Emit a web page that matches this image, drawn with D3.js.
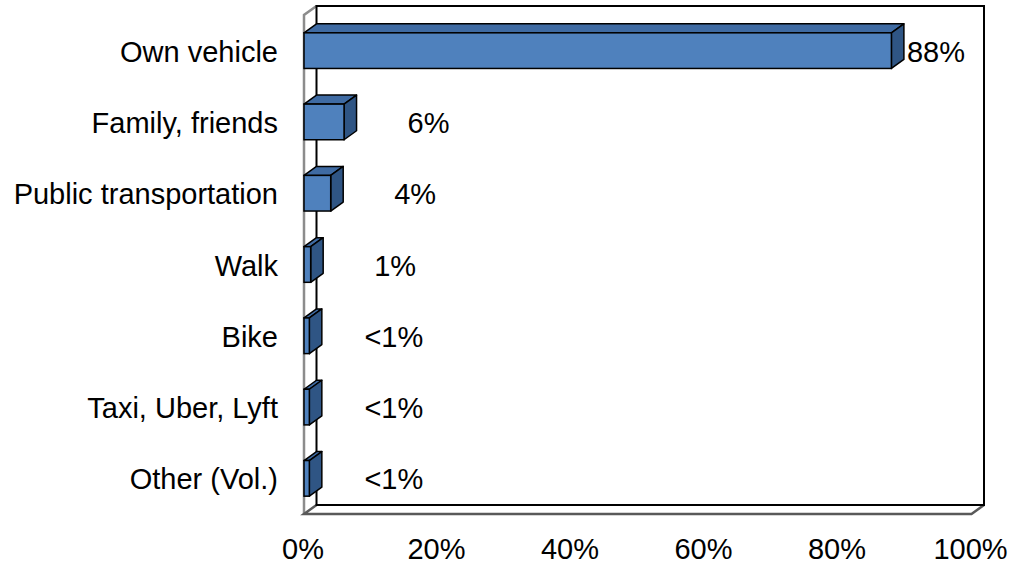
<!DOCTYPE html>
<html>
<head>
<meta charset="utf-8">
<script src="https://cdn.jsdelivr.net/npm/d3@7"></script>
<style>
  html, body { margin: 0; padding: 0; background: #fff; }
  svg { display: block; font-family: "Liberation Sans", Arial, sans-serif; }
</style>
</head>
<body>
<svg id="chart" width="1011" height="564"></svg>
<script>
const categories = ["Own vehicle", "Family, friends", "Public transportation", "Walk", "Bike", "Taxi, Uber, Lyft", "Other (Vol.)"];
const values = [88, 6, 4, 1, 0.8, 0.8, 0.8];
const valueLabels = ["88%", "6%", "4%", "1%", "<1%", "<1%", "<1%"];
const tickValues = [0, 20, 40, 60, 80, 100];
const tickLabels = ["0%", "20%", "40%", "60%", "80%", "100%"];

(function () {
const svg = d3.select("#chart");
const fontSize = 29;

// front plane geometry
const pLeft = 304, pRight = 971.5, pTop = 15, pBottom = 514;
const dx = 12.5, dy = 9; // depth offset

const x = d3.scaleLinear().domain([0, 100]).range([pLeft, pRight]);
const y = d3.scaleBand().domain(categories).range([pTop, pBottom]).paddingInner(0.5).paddingOuter(0.25);

// walls
const g = svg.append("g");
g.append("path")
  .attr("d", `M${pLeft},${pBottom}L${pLeft},${pTop}L${pLeft + dx},${pTop - dy}`)
  .attr("fill", "none").attr("stroke", "#8c8c8c").attr("stroke-width", 2.5);
g.append("path")
  .attr("d", `M${pLeft + dx},${pBottom - dy}L${pLeft},${pBottom}L${pRight},${pBottom}L${pRight + dx},${pBottom - dy}`)
  .attr("fill", "none").attr("stroke", "#595959").attr("stroke-width", 2.5);
g.append("rect")
  .attr("x", pLeft + dx).attr("y", pTop - dy)
  .attr("width", pRight - pLeft).attr("height", pBottom - pTop)
  .attr("fill", "none").attr("stroke", "#000").attr("stroke-width", 2);

// bars
const bars = svg.append("g").selectAll("g.bar")
  .data(categories.map((c, i) => ({ c, v: values[i], lab: valueLabels[i] })))
  .join("g").attr("class", "bar");

bars.each(function (d) {
  const sel = d3.select(this);
  const x0 = x(0), x1 = x(d.v);
  const y0 = y(d.c), y1 = y(d.c) + y.bandwidth();
  sel.append("path")
    .attr("d", `M${x0},${y0}L${x0 + dx},${y0 - dy}L${x1 + dx},${y0 - dy}L${x1},${y0}Z`)
    .attr("fill", "#3f6ba3").attr("stroke", "#000").attr("stroke-width", 1.5).attr("stroke-linejoin", "round");
  sel.append("path")
    .attr("d", `M${x1},${y0}L${x1 + dx},${y0 - dy}L${x1 + dx},${y1 - dy}L${x1},${y1}Z`)
    .attr("fill", "#2f5584").attr("stroke", "#000").attr("stroke-width", 1.5).attr("stroke-linejoin", "round");
  sel.append("rect")
    .attr("x", x0).attr("y", y0).attr("width", x1 - x0).attr("height", y1 - y0)
    .attr("fill", "#4f81bd").attr("stroke", "#000").attr("stroke-width", 1.5);
});

// value labels
bars.append("text")
  .attr("font-size", fontSize)
  .attr("fill", "#000")
  .attr("y", d => y(d.c) + y.bandwidth() / 2 + 11)
  .each(function (d) {
    const t = d3.select(this).text(d.lab);
    const cx = x(d.v) + dx + 72;
    const w = this.getComputedTextLength();
    if (cx + w / 2 > pRight + dx - 8) {
      t.attr("x", x(d.v) + dx + 3).attr("text-anchor", "start");
    } else {
      t.attr("x", cx).attr("text-anchor", "middle");
    }
  });

// category labels
svg.append("g").selectAll("text")
  .data(categories)
  .join("text")
  .attr("x", 278)
  .attr("y", d => y(d) + y.bandwidth() / 2 + 11)
  .attr("text-anchor", "end")
  .attr("font-size", fontSize)
  .attr("fill", "#000")
  .text(d => d);

// x tick labels
svg.append("g").selectAll("text")
  .data(tickValues)
  .join("text")
  .attr("x", d => x(d) - 1)
  .attr("y", 559)
  .attr("text-anchor", "middle")
  .attr("font-size", fontSize)
  .attr("fill", "#000")
  .text((d, i) => tickLabels[i]);
})();
</script>
</body>
</html>
